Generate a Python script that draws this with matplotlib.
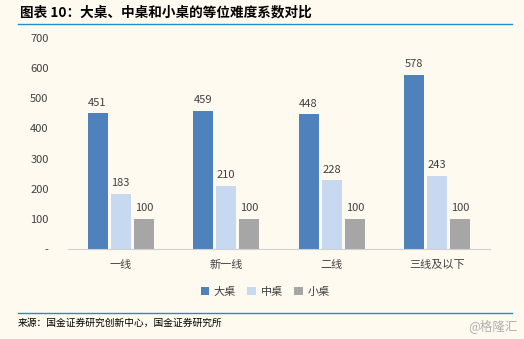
import numpy as np
import matplotlib.pyplot as plt

plt.rcParams['font.family'] = ['Noto Sans CJK SC', 'DejaVu Sans']

categories = ['一线', '新一线', '二线', '三线及以下']
series_names = ['大桌', '中桌', '小桌']
big = [451, 459, 448, 578]
mid = [183, 210, 228, 243]
small = [100, 100, 100, 100]
yticks = [0, 100, 200, 300, 400, 500, 600, 700]
ytick_labels = ['-', '100', '200', '300', '400', '500', '600', '700']

colors = ['#4F81BD', '#C6D9F1', '#A6A6A6']
bg = '#FEFAF0'

fig = plt.figure(figsize=(5.24, 3.39), dpi=100, facecolor=bg)
ax = fig.add_axes([68 / 524, 1 - 249 / 339, 422 / 524, 211 / 339], facecolor=bg)

x = np.arange(len(categories))
w = 0.19
gap = 0.03
for i, (vals, name) in enumerate(zip([big, mid, small], series_names)):
    pos = x + (i - 1) * (w + gap)
    bars = ax.bar(pos, vals, width=w, color=colors[i], label=name)
    for b, v in zip(bars, vals):
        ax.text(b.get_x() + b.get_width() / 2, v + 18, str(v), ha='center', va='bottom',
                fontsize=8, color='#404040')

ax.set_xlim(-0.5, 3.5)
ax.set_ylim(0, 700)
ax.set_yticks(yticks)
ax.set_yticklabels(ytick_labels, fontsize=8, color='#404040')
ax.set_xticks(x)
ax.set_xticklabels(categories, fontsize=8, color='#404040')
ax.tick_params(length=0, pad=8)
ax.tick_params(axis='y', pad=14)
for s in ['top', 'right', 'left']:
    ax.spines[s].set_visible(False)
ax.spines['bottom'].set_color('#D0D0D0')

ax.legend(loc='center', bbox_to_anchor=(265 / 524, 1 - 292 / 339), bbox_transform=fig.transFigure,
          ncol=3, frameon=False, fontsize=8, handlelength=0.8, handleheight=0.8,
          handletextpad=0.4, columnspacing=1.0, labelcolor='#404040')

# title and source
fig.text(20 / 524, 1 - 12 / 339, '图表 10：大桌、中桌和小桌的等位难度系数对比', fontsize=9.8,
         fontweight='bold', style='italic', va='center', ha='left')
fig.add_artist(plt.Line2D([18 / 524, 512 / 524], [1 - 24 / 339, 1 - 24 / 339], color='#1E8FCB', lw=1))
fig.add_artist(plt.Line2D([18 / 524, 512 / 524], [1 - 313 / 339, 1 - 313 / 339], color='#1E8FCB', lw=1))
fig.text(18 / 524, 1 - 323 / 339, '来源：国金证券研究创新中心，国金证券研究所', fontsize=7,
         va='center', ha='left')
fig.text(518 / 524, 1 - 326 / 339, '@格隆汇', fontsize=9, color='#B0B0B0', va='center', ha='right')

fig.savefig('out.png', dpi=100, facecolor=bg)
